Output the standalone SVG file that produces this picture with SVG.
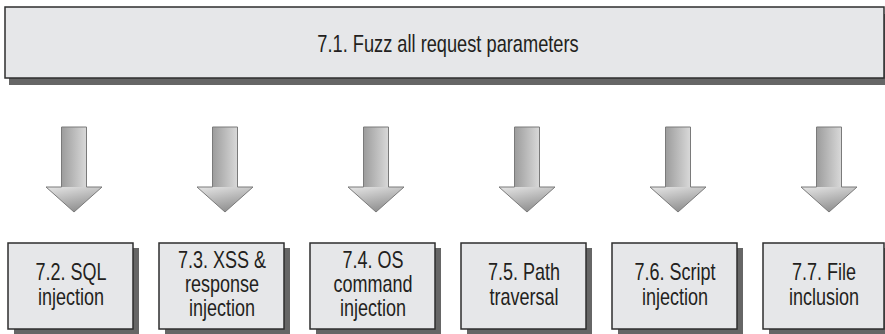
<svg xmlns="http://www.w3.org/2000/svg" width="885" height="334" viewBox="0 0 885 334">
<defs>
<linearGradient id="gShaft" x1="0" y1="0" x2="1" y2="0">
<stop offset="0" stop-color="#9c9c9c"/>
<stop offset="1" stop-color="#d9d9d9"/>
</linearGradient>
<linearGradient id="gHead" x1="0.2" y1="0" x2="0.6" y2="1">
<stop offset="0" stop-color="#e0e0e0"/>
<stop offset="1" stop-color="#8c8c8c"/>
</linearGradient>
<g id="arrow">
<rect x="-12.5" y="0" width="25" height="61" fill="url(#gShaft)"/>
<path d="M-28,60 L28,60 L0,85 Z" fill="url(#gHead)"/>
<path d="M-12.5,0 L12.5,0 L12.5,60 L28,60 L0,85 L-28,60 L-12.5,60 Z" fill="none" stroke="#7a7a7a" stroke-width="1"/>
</g>
</defs>
<style>
.box{fill:#e6e7e9;stroke:#2e2e2e;stroke-width:1.5}
.shadow{fill:#666666}
.t{font-family:"Liberation Sans",Arial,sans-serif;font-size:24px;fill:#231f20;text-anchor:middle}
</style>
<rect width="885" height="334" fill="#ffffff"/>
<g id="n71">
<rect class="shadow" x="9" y="14" width="876" height="71"/>
<rect class="box" x="5" y="7" width="879" height="71"/>
<text class="t" transform="translate(448,52) scale(0.76,1)">7.1. Fuzz all request parameters</text>
</g>
<g id="connectors">
<use href="#arrow" x="74" y="127"/>
<use href="#arrow" x="225" y="127"/>
<use href="#arrow" x="376" y="127"/>
<use href="#arrow" x="527" y="127"/>
<use href="#arrow" x="678" y="127"/>
<use href="#arrow" x="829" y="127"/>
</g>
<g id="n72">
<rect class="shadow" x="14" y="248" width="125" height="86"/>
<rect class="box" x="8" y="243" width="125" height="86"/>
<text class="t" transform="translate(71,280) scale(0.75,1)">7.2. SQL</text>
<text class="t" transform="translate(71,305) scale(0.75,1)">injection</text>
</g>
<g id="n73">
<rect class="shadow" x="165" y="248" width="125" height="86"/>
<rect class="box" x="159" y="243" width="125" height="86"/>
<text class="t" transform="translate(222,268) scale(0.75,1)">7.3. XSS &amp;</text>
<text class="t" transform="translate(222,292) scale(0.75,1)">response</text>
<text class="t" transform="translate(222,316) scale(0.75,1)">injection</text>
</g>
<g id="n74">
<rect class="shadow" x="316" y="248" width="125" height="86"/>
<rect class="box" x="310" y="243" width="125" height="86"/>
<text class="t" transform="translate(373,268) scale(0.75,1)">7.4. OS</text>
<text class="t" transform="translate(373,292) scale(0.75,1)">command</text>
<text class="t" transform="translate(373,316) scale(0.75,1)">injection</text>
</g>
<g id="n75">
<rect class="shadow" x="467" y="248" width="125" height="86"/>
<rect class="box" x="461" y="243" width="125" height="86"/>
<text class="t" transform="translate(524,280) scale(0.75,1)">7.5. Path</text>
<text class="t" transform="translate(524,305) scale(0.75,1)">traversal</text>
</g>
<g id="n76">
<rect class="shadow" x="618" y="248" width="125" height="86"/>
<rect class="box" x="612" y="243" width="125" height="86"/>
<text class="t" transform="translate(675,280) scale(0.75,1)">7.6. Script</text>
<text class="t" transform="translate(675,305) scale(0.75,1)">injection</text>
</g>
<g id="n77">
<rect class="shadow" x="769" y="248" width="125" height="86"/>
<rect class="box" x="763" y="243" width="121" height="86"/>
<text class="t" transform="translate(824,280) scale(0.75,1)">7.7. File</text>
<text class="t" transform="translate(824,305) scale(0.75,1)">inclusion</text>
</g>
</svg>
